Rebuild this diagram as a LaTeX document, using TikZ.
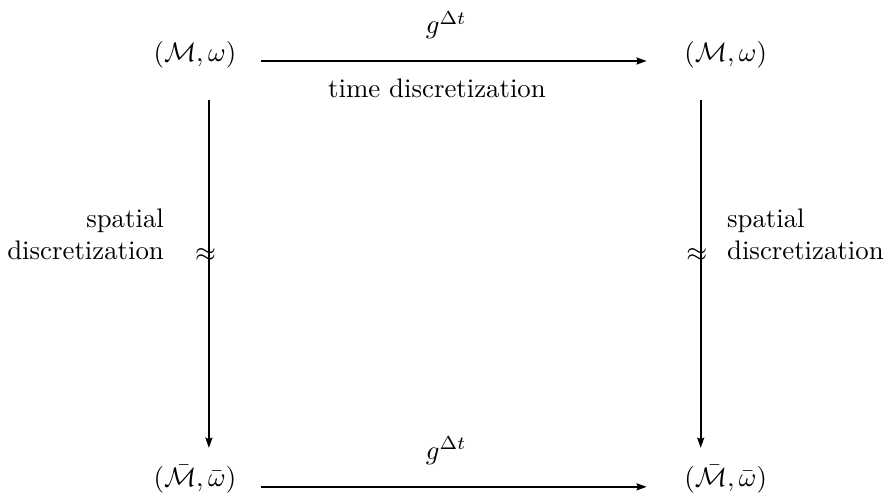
\documentclass[tikz,border=0pt]{standalone}
\usetikzlibrary{positioning,arrows.meta}

\begin{document}
\begin{tikzpicture}[
    space/.style={inner sep=0pt, anchor=base},
    arrow/.style={-{Stealth[length=3.8pt, width=2.6pt, inset=0.5pt]}, line width=0.7pt},
    lbl/.style={inner sep=0pt, font=\normalsize}
]
\useasboundingbox (0,0) rectangle (11.62,6.516);

% Spaces at the four corners
\node[space] (tl) at (2.556,5.716) {$(\mathcal{M},\omega)$};
\node[space] (tr) at (9.518,5.716) {$(\mathcal{M},\omega)$};
\node[space] (bl) at (2.556,0.131) {$(\bar{\mathcal{M}},\bar{\omega})$};
\node[space] (br) at (9.518,0.131) {$(\bar{\mathcal{M}},\bar{\omega})$};

% Time stepping
\draw[arrow] ([xshift=0.865cm]tl.base) -- ([xshift=-1.036cm]tr.base)
    node[midway, lbl, yshift=0.47cm, xshift=-0.1cm] {$g^{\Delta t}$}
    node[midway, lbl, yshift=-0.354cm, xshift=-0.22cm] {time discretization};
\draw[arrow] ([xshift=0.865cm]bl.base) -- ([xshift=-1.036cm]br.base)
    node[midway, lbl, yshift=0.47cm, xshift=-0.1cm] {$g^{\Delta t}$};

% Spatial discretization
\draw[arrow] ([xshift=0.184cm, yshift=-0.511cm]tl.base) -- ([xshift=0.184cm, yshift=0.511cm]bl.base)
    node[pos=0.447, lbl, xshift=-0.045cm] (apl) {$\approx$};
\draw[arrow] ([xshift=-0.328cm, yshift=-0.511cm]tr.base) -- ([xshift=-0.328cm, yshift=0.511cm]br.base)
    node[pos=0.447, lbl, xshift=-0.05cm] (apr) {$\approx$};

% Labels beside the vertical arrows
\node[lbl, align=right, left=0.39cm of apl, yshift=0.275cm] (sdl) {spatial\\discretization};
\node[lbl, align=left, right=0.24cm of apr, yshift=0.275cm] (sdr) {spatial\\discretization};

\end{tikzpicture}
\end{document}
